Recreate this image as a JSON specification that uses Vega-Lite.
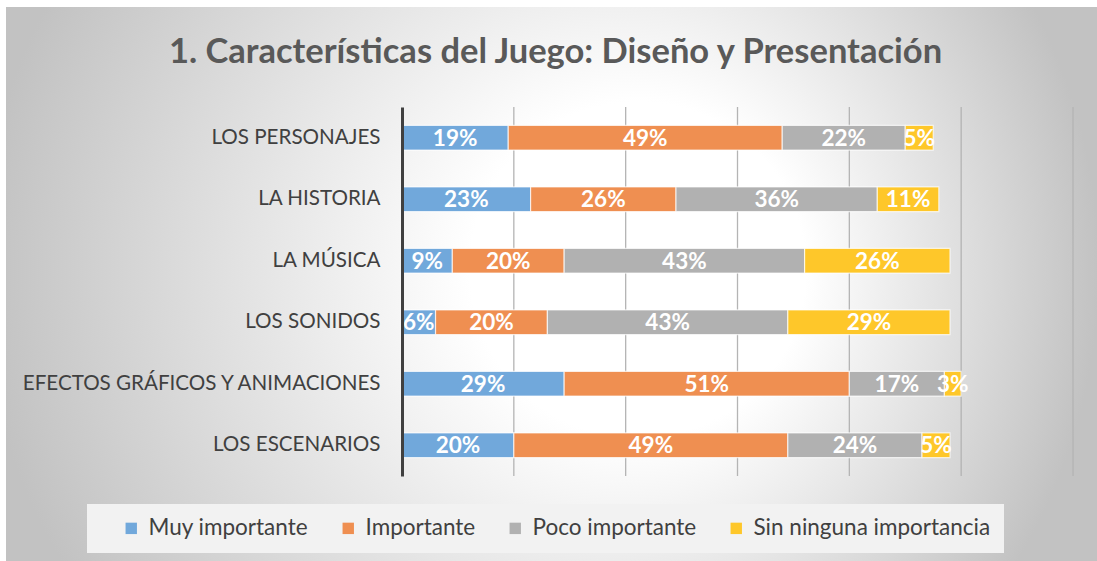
{
  "$schema": "https://vega.github.io/schema/vega-lite/v6.json",
  "width": 671,
  "height": 369,
  "autosize": {"type": "none"},
  "padding": {"left": 402, "top": 107, "right": 24, "bottom": 85},
  "background": "#ffffff",
  "title": {
    "text": "1. Características del Juego: Diseño y Presentación",
    "orient": "top",
    "anchor": "middle",
    "frame": "bounds",
    "offset": -90,
    "dx": 4,
    "baseline": "alphabetic",
    "font": "Lato",
    "fontSize": 34.5,
    "fontWeight": "bold",
    "color": "#595959"
  },
  "config": {"view": {"stroke": null}, "font": "Lato"},
  "datasets": {
    "rejilla": [{"v": 0.2}, {"v": 0.4}, {"v": 0.6}, {"v": 0.8}, {"v": 1.0}, {"v": 1.2}],
    "resp": [
      {"aspecto": "LOS PERSONAJES", "nivel": "Muy importante", "orden": 1, "valor": 0.19},
      {"aspecto": "LOS PERSONAJES", "nivel": "Importante", "orden": 2, "valor": 0.49},
      {"aspecto": "LOS PERSONAJES", "nivel": "Poco importante", "orden": 3, "valor": 0.22},
      {"aspecto": "LOS PERSONAJES", "nivel": "Sin ninguna importancia", "orden": 4, "valor": 0.05},
      {"aspecto": "LA HISTORIA", "nivel": "Muy importante", "orden": 1, "valor": 0.23},
      {"aspecto": "LA HISTORIA", "nivel": "Importante", "orden": 2, "valor": 0.26},
      {"aspecto": "LA HISTORIA", "nivel": "Poco importante", "orden": 3, "valor": 0.36},
      {"aspecto": "LA HISTORIA", "nivel": "Sin ninguna importancia", "orden": 4, "valor": 0.11},
      {"aspecto": "LA MÚSICA", "nivel": "Muy importante", "orden": 1, "valor": 0.09},
      {"aspecto": "LA MÚSICA", "nivel": "Importante", "orden": 2, "valor": 0.20},
      {"aspecto": "LA MÚSICA", "nivel": "Poco importante", "orden": 3, "valor": 0.43},
      {"aspecto": "LA MÚSICA", "nivel": "Sin ninguna importancia", "orden": 4, "valor": 0.26},
      {"aspecto": "LOS SONIDOS", "nivel": "Muy importante", "orden": 1, "valor": 0.06},
      {"aspecto": "LOS SONIDOS", "nivel": "Importante", "orden": 2, "valor": 0.20},
      {"aspecto": "LOS SONIDOS", "nivel": "Poco importante", "orden": 3, "valor": 0.43},
      {"aspecto": "LOS SONIDOS", "nivel": "Sin ninguna importancia", "orden": 4, "valor": 0.29},
      {"aspecto": "EFECTOS GRÁFICOS Y ANIMACIONES", "nivel": "Muy importante", "orden": 1, "valor": 0.29},
      {"aspecto": "EFECTOS GRÁFICOS Y ANIMACIONES", "nivel": "Importante", "orden": 2, "valor": 0.51},
      {"aspecto": "EFECTOS GRÁFICOS Y ANIMACIONES", "nivel": "Poco importante", "orden": 3, "valor": 0.17},
      {"aspecto": "EFECTOS GRÁFICOS Y ANIMACIONES", "nivel": "Sin ninguna importancia", "orden": 4, "valor": 0.03},
      {"aspecto": "LOS ESCENARIOS", "nivel": "Muy importante", "orden": 1, "valor": 0.20},
      {"aspecto": "LOS ESCENARIOS", "nivel": "Importante", "orden": 2, "valor": 0.49},
      {"aspecto": "LOS ESCENARIOS", "nivel": "Poco importante", "orden": 3, "valor": 0.24},
      {"aspecto": "LOS ESCENARIOS", "nivel": "Sin ninguna importancia", "orden": 4, "valor": 0.05}
    ]
  },
  "layer": [
    {
      "data": {"values": [{}]},
      "mark": {
        "type": "rect",
        "fill": {
          "gradient": "radial",
          "x1": 0.618, "y1": 0.487, "r1": 0,
          "x2": 0.489, "y2": 0.487, "r2": 0.513,
          "stops": [
            {"offset": 0, "color": "#ffffff"},
            {"offset": 0.3, "color": "#ffffff"},
            {"offset": 1, "color": "#c2c2c2"}
          ]
        }
      },
      "encoding": {
        "x": {"datum": 0, "type": "quantitative", "scale": {"domain": [0, 1], "range": [-396, 695]}, "axis": null},
        "x2": {"datum": 1},
        "y": {"datum": 0, "type": "quantitative", "scale": {"domain": [0, 1], "range": [-100, 454]}, "axis": null},
        "y2": {"datum": 1}
      }
    },
    {
      "data": {"name": "resp"},
      "layer": [
        {
          "data": {"name": "rejilla"},
          "mark": {"type": "rule", "color": "#b4b4b4", "strokeWidth": 1.3},
          "encoding": {
            "x": {"field": "v", "type": "quantitative", "scale": {"domain": [0, 1.2], "nice": false, "zero": true}, "axis": null}
          }
        },
        {
          "mark": {"type": "bar", "stroke": "#ffffff", "strokeWidth": 1.2, "strokeOpacity": 0.7},
          "encoding": {
            "y": {
              "field": "aspecto", "type": "nominal",
              "sort": ["LOS PERSONAJES", "LA HISTORIA", "LA MÚSICA", "LOS SONIDOS", "EFECTOS GRÁFICOS Y ANIMACIONES", "LOS ESCENARIOS"],
              "scale": {"paddingInner": 0.6, "paddingOuter": 0.3},
              "axis": {
                "title": null, "ticks": false, "grid": false,
                "domainColor": "#404040", "domainWidth": 3,
                "labelFontSize": 20.6, "labelColor": "#404040", "labelFont": "Lato",
                "labelPadding": 22, "labelLimit": 500, "zindex": 1
              }
            },
            "x": {"field": "valor", "type": "quantitative", "stack": "zero", "scale": {"domain": [0, 1.2], "nice": false}, "axis": null},
            "order": {"field": "orden", "type": "quantitative", "sort": "ascending"},
            "color": {
              "field": "nivel", "type": "nominal",
              "scale": {
                "domain": ["Muy importante", "Importante", "Poco importante", "Sin ninguna importancia"],
                "range": ["#71a8db", "#ef8f51", "#b1b1b1", "#fec72a"]
              },
              "legend": {
                "orient": "none", "legendX": -315, "legendY": 397,
                "direction": "horizontal",
                "title": " ", "titleOrient": "left", "titlePadding": 20, "titleFontSize": 11,
                "symbolType": "square", "symbolSize": 130, "symbolStrokeWidth": 0,
                "labelFontSize": 22.5, "labelFont": "Lato", "labelColor": "#404040",
                "labelOffset": 6, "columnPadding": 28, "labelLimit": 400,
                "fillColor": "#f2f2f2", "padding": 13
              }
            }
          }
        },
        {
          "mark": {"type": "text", "color": "#ffffff", "fontWeight": "bold", "fontSize": 22.5, "font": "Lato", "align": "center", "baseline": "middle", "dy": 1},
          "encoding": {
            "y": {"field": "aspecto", "type": "nominal", "sort": ["LOS PERSONAJES", "LA HISTORIA", "LA MÚSICA", "LOS SONIDOS", "EFECTOS GRÁFICOS Y ANIMACIONES", "LOS ESCENARIOS"]},
            "x": {"field": "valor", "type": "quantitative", "stack": "zero", "bandPosition": 0.5, "axis": null},
            "order": {"field": "orden", "type": "quantitative", "sort": "ascending"},
            "detail": {"field": "nivel", "type": "nominal"},
            "text": {"field": "valor", "type": "quantitative", "format": ".0%"}
          }
        }
      ]
    }
  ],
  "resolve": {"scale": {"x": "independent", "y": "independent"}}
}
